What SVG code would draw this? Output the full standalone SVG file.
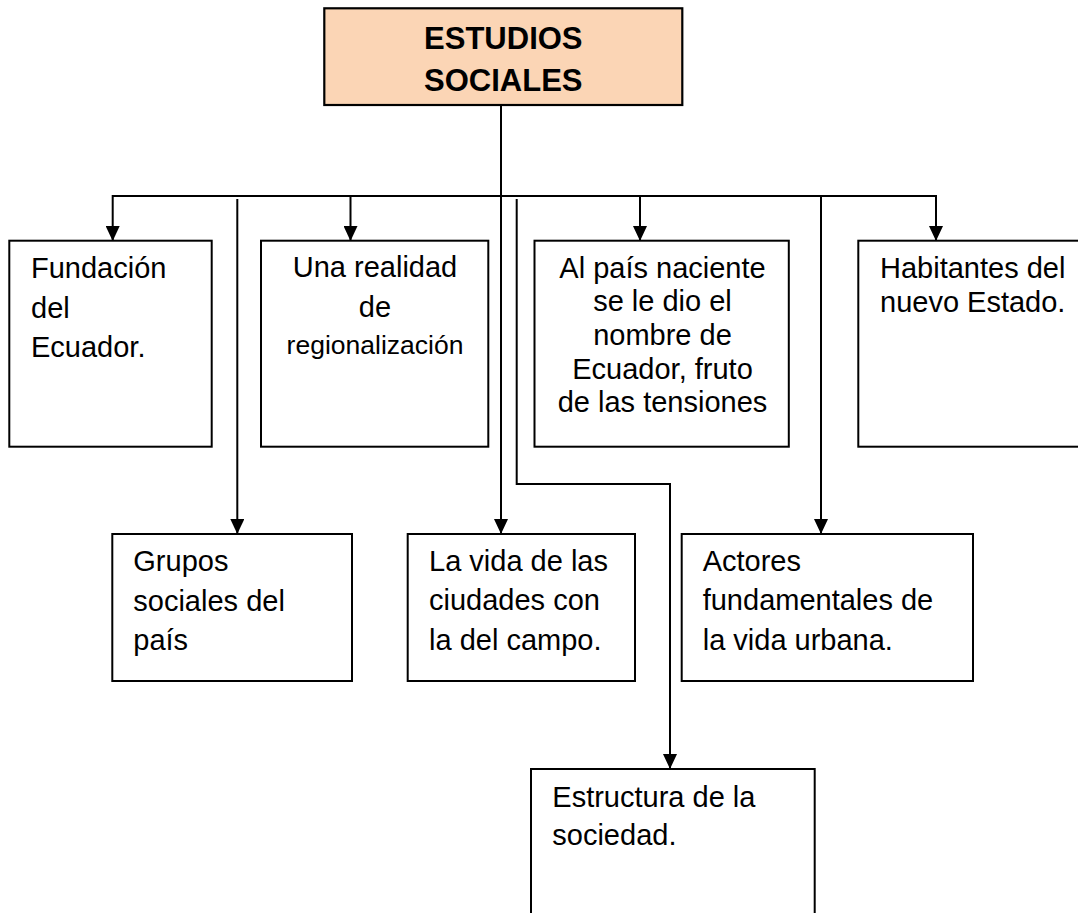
<svg xmlns="http://www.w3.org/2000/svg" width="1078" height="913" viewBox="0 0 1078 913">
<style>
.box{fill:#ffffff;stroke:#000000;stroke-width:2}
.top{fill:#fbd5b5;stroke:#000000;stroke-width:2.2}
.t{font-family:"Liberation Sans",Arial,sans-serif;font-size:29px;fill:#000000}
.s{font-size:26.5px}
.b{font-family:"Liberation Sans",Arial,sans-serif;font-size:31px;font-weight:bold;fill:#000000}
.c{text-anchor:middle}
.ln{fill:none;stroke:#000000;stroke-width:2}
</style>
<defs>
<marker id="ah" markerUnits="userSpaceOnUse" viewBox="0 0 15 14" refX="15" refY="7" markerWidth="15" markerHeight="14" orient="auto">
<path d="M0,0 L15,7 L0,14 z" fill="#000000"/>
</marker>
</defs>
<g id="connectors">
<line class="ln" x1="501" y1="105" x2="501" y2="533"/>
<line class="ln" x1="112.7" y1="196" x2="936" y2="196"/>
<line class="ln" x1="112.7" y1="195" x2="112.7" y2="241" marker-end="url(#ah)"/>
<line class="ln" x1="350.5" y1="195" x2="350.5" y2="241" marker-end="url(#ah)"/>
<line class="ln" x1="640" y1="195" x2="640" y2="241" marker-end="url(#ah)"/>
<line class="ln" x1="936" y1="195" x2="936" y2="241" marker-end="url(#ah)"/>
<line class="ln" x1="237.3" y1="199" x2="237.3" y2="534" marker-end="url(#ah)"/>
<line class="ln" x1="501" y1="480" x2="501" y2="534" marker-end="url(#ah)"/>
<line class="ln" x1="821" y1="196" x2="821" y2="534" marker-end="url(#ah)"/>
<polyline class="ln" points="516.7,199 516.7,484 670,484 670,769" marker-end="url(#ah)"/>
</g>
<g id="root">
<rect class="top" x="324.3" y="8.3" width="358" height="96.7"/>
<text class="b c" x="503.3" y="49">ESTUDIOS</text>
<text class="b c" x="503.3" y="91">SOCIALES</text>
</g>
<g id="fundacion">
<rect class="box" x="9.3" y="240.7" width="202.4" height="206"/>
<text class="t" x="31" y="278">Fundación</text>
<text class="t" x="31" y="318">del</text>
<text class="t" x="31" y="357">Ecuador.</text>
</g>
<g id="realidad">
<rect class="box" x="261" y="240.7" width="227.3" height="206"/>
<text class="t c" x="375" y="277">Una realidad</text>
<text class="t c" x="375" y="317">de</text>
<text class="t c s" x="375" y="354">regionalización</text>
</g>
<g id="pais">
<rect class="box" x="534.5" y="240.7" width="254.3" height="206"/>
<text class="t c" x="662.5" y="278">Al país naciente</text>
<text class="t c" x="662.5" y="311">se le dio el</text>
<text class="t c" x="662.5" y="344.5">nombre de</text>
<text class="t c" x="662.5" y="378.5">Ecuador, fruto</text>
<text class="t c" x="662.5" y="412">de las tensiones</text>
</g>
<g id="habitantes">
<rect class="box" x="858.3" y="240.7" width="240" height="206"/>
<text class="t" x="880" y="278">Habitantes del</text>
<text class="t" x="880" y="312">nuevo Estado.</text>
</g>
<g id="grupos">
<rect class="box" x="112.3" y="534" width="239.7" height="147"/>
<text class="t" x="133.3" y="571">Grupos</text>
<text class="t" x="133.3" y="611">sociales del</text>
<text class="t" x="133.3" y="650">país</text>
</g>
<g id="vida">
<rect class="box" x="407.7" y="534" width="227.3" height="147"/>
<text class="t" x="429" y="571">La vida de las</text>
<text class="t" x="429" y="610">ciudades con</text>
<text class="t" x="429" y="650">la del campo.</text>
</g>
<g id="actores">
<rect class="box" x="681.7" y="534" width="291.3" height="147"/>
<text class="t" x="702.7" y="571">Actores</text>
<text class="t" x="702.7" y="610">fundamentales de</text>
<text class="t" x="702.7" y="650">la vida urbana.</text>
</g>
<g id="estructura">
<rect class="box" x="531" y="769" width="283.7" height="160"/>
<text class="t" x="552.3" y="807">Estructura de la</text>
<text class="t" x="552.3" y="845">sociedad.</text>
</g>
</svg>
